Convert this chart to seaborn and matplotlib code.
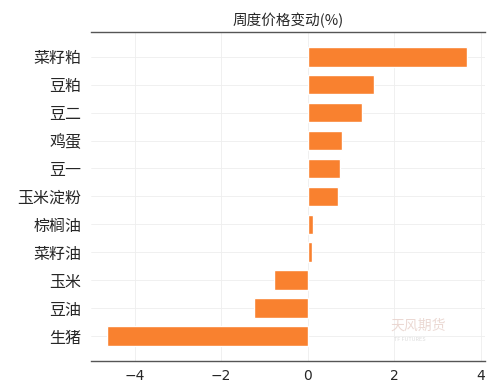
import matplotlib
matplotlib.use("Agg")
import matplotlib.pyplot as plt
import seaborn as sns
import pandas as pd

# weekly price change (%) by product
products = ["菜籽粕", "豆粕", "豆二", "鸡蛋", "豆一", "玉米淀粉",
            "棕榈油", "菜籽油", "玉米", "豆油", "生猪"]
changes = [3.68, 1.54, 1.25, 0.80, 0.74, 0.69, 0.12, 0.11, -0.78, -1.24, -4.63]
x_ticks = [-4, -2, 0, 2, 4]

df = pd.DataFrame({"product": products, "change": changes})

sns.set_style("whitegrid")
plt.rcParams['font.family'] = ['Noto Sans CJK SC', 'DejaVu Sans']
plt.rcParams['axes.unicode_minus'] = False

fig = plt.figure(figsize=(5, 3.92), dpi=100)
ax = fig.add_axes([0.182, 0.08, 0.788, 0.838])

sns.barplot(data=df, x="change", y="product", color="#F9812F",
            saturation=1, width=0.7, ax=ax)

ax.set_xlim(-5.01, 4.1)
ax.set_ylim(10.88, -0.88)
ax.set_xticks(x_ticks)
ax.set_xticklabels([str(t).replace("-", "−") for t in x_ticks], fontsize=10,
                   family=['DejaVu Sans'])
ax.set_xlabel("")
ax.set_ylabel("")
ax.tick_params(axis="y", labelsize=11.5, length=3, color="#999999", pad=4)
ax.tick_params(axis="x", length=3, color="#555555", pad=3)
for lbl in ax.get_yticklabels():
    lbl.set_fontweight("medium")
ax.grid(True, color="#eeeeee", linewidth=0.6)

for side in ["left", "right"]:
    ax.spines[side].set_visible(False)
for side in ["top", "bottom"]:
    ax.spines[side].set_visible(True)
    ax.spines[side].set_color("#555555")
    ax.spines[side].set_linewidth(1.0)

ax.set_title("周度价格变动(%)", fontsize=10.5, pad=5)

# faint watermark
ax.text(0.83, 0.105, "天风期货", transform=ax.transAxes, fontsize=10,
        color="#e6cfc8", alpha=0.8, ha="center", va="center")
ax.text(0.81, 0.065, "TF FUTURES", transform=ax.transAxes, fontsize=4,
        color="#dddddd", ha="center", va="center")

fig.savefig("out.png", dpi=100)
